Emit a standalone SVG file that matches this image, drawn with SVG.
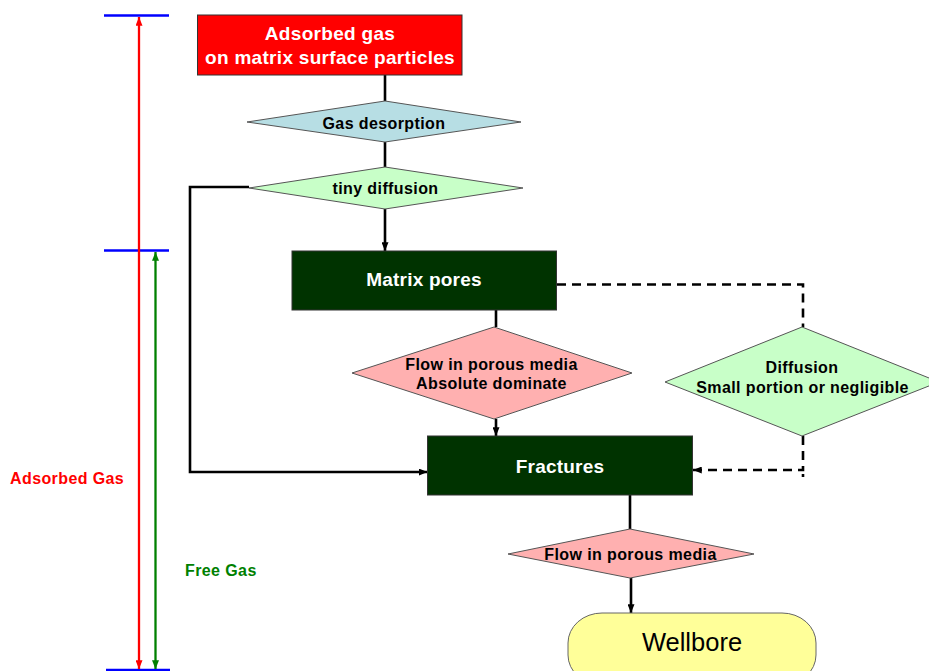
<svg xmlns="http://www.w3.org/2000/svg" width="929" height="671" viewBox="0 0 929 671">
<style>
text{font-family:"Liberation Sans",Arial,sans-serif;}
.big{font-size:19px;font-weight:bold;fill:#fff;text-anchor:middle;letter-spacing:0.3px}
.sm{font-size:16px;font-weight:bold;fill:#000;text-anchor:middle;letter-spacing:0.4px}
.lbl{font-size:16px;font-weight:bold;letter-spacing:0.4px}
.box{stroke:#333;stroke-width:1}
.dia{stroke:#555;stroke-width:1}
.con{fill:none;stroke:#000;stroke-width:2.6}
.dash{fill:none;stroke:#000;stroke-width:2.6;stroke-dasharray:9 6}
</style>
<defs>
<marker id="ab" viewBox="0 0 10 8" refX="10" refY="4" markerWidth="9" markerHeight="7" markerUnits="userSpaceOnUse" orient="auto-start-reverse"><path d="M0,0 L10,4 L0,8 z" fill="#000"/></marker>
<marker id="ar" viewBox="0 0 10 8" refX="10" refY="4" markerWidth="9" markerHeight="7" markerUnits="userSpaceOnUse" orient="auto-start-reverse"><path d="M0,0 L10,4 L0,8 z" fill="#f00"/></marker>
<marker id="ag" viewBox="0 0 10 8" refX="10" refY="4" markerWidth="9" markerHeight="7" markerUnits="userSpaceOnUse" orient="auto-start-reverse"><path d="M0,0 L10,4 L0,8 z" fill="#008000"/></marker>
</defs>
<rect width="929" height="671" fill="#fff"/>

<g id="scale">
<line x1="104" y1="15.5" x2="169" y2="15.5" stroke="#00f" stroke-width="2.5"/>
<line x1="104" y1="250.5" x2="169" y2="250.5" stroke="#00f" stroke-width="2.5"/>
<line x1="106" y1="670" x2="170" y2="670" stroke="#00f" stroke-width="2.5"/>
<line x1="139" y1="17" x2="139" y2="669" stroke="#f00" stroke-width="2.3" marker-start="url(#ar)" marker-end="url(#ar)"/>
<line x1="155.5" y1="252" x2="155.5" y2="669" stroke="#008000" stroke-width="2.3" marker-start="url(#ag)" marker-end="url(#ag)"/>
<text class="lbl" x="10" y="484" fill="#f00">Adsorbed Gas</text>
<text class="lbl" x="185" y="576" fill="#008000">Free Gas</text>
</g>

<g id="connectors">
<line class="con" x1="385" y1="75" x2="385" y2="101"/>
<line class="con" x1="385" y1="142" x2="385" y2="167"/>
<line class="con" x1="385" y1="209" x2="385" y2="251" marker-end="url(#ab)"/>
<line class="con" x1="496" y1="310" x2="496" y2="327"/>
<line class="con" x1="496" y1="419" x2="496" y2="436" marker-end="url(#ab)"/>
<path class="con" d="M249,187 H190 V472 H427.5" marker-end="url(#ab)"/>
<line class="con" x1="630" y1="495" x2="630" y2="529"/>
<line class="con" x1="631" y1="578" x2="631" y2="613" marker-end="url(#ab)"/>
<path class="dash" d="M557,284.5 H803 V327"/>
<path class="dash" d="M803,436 V470 H693" marker-end="url(#ab)"/>
<line x1="803" y1="474" x2="803" y2="477" stroke="#000" stroke-width="2.6"/>
</g>

<g id="adsorbed">
<rect class="box" x="197.5" y="15" width="264.5" height="60" fill="#f00"/>
<text class="big" x="330" y="40">Adsorbed gas</text>
<text class="big" x="330" y="63.5">on matrix surface particles</text>
</g>

<g id="desorption">
<polygon class="dia" points="385,101 521,122 385,142 247,122" fill="#b7dee4"/>
<text class="sm" x="384" y="129">Gas desorption</text>
</g>

<g id="tiny">
<polygon class="dia" points="385,167 523,188 385,209 249,188" fill="#c8ffc8"/>
<text class="sm" x="385.5" y="194">tiny diffusion</text>
</g>

<g id="matrix">
<rect class="box" x="292" y="251" width="264.5" height="59" fill="#003300"/>
<text class="big" x="424" y="286" style="letter-spacing:0.2px">Matrix pores</text>
</g>

<g id="flow1">
<polygon class="dia" points="494,327 632,373 494,419 352,373" fill="#ffb0b0"/>
<text class="sm" x="491.5" y="369.5">Flow in porous media</text>
<text class="sm" x="491.5" y="388.5">Absolute dominate</text>
</g>

<g id="diffusion">
<polygon class="dia" points="802,327 939,382 802,436 665,382" fill="#c8ffc8"/>
<text class="sm" x="802" y="373">Diffusion</text>
<text class="sm" x="802.5" y="393">Small portion or negligible</text>
</g>

<g id="fractures">
<rect class="box" x="427.5" y="436" width="265" height="59" fill="#003300"/>
<text class="big" x="560" y="472.5" style="letter-spacing:0.2px">Fractures</text>
</g>

<g id="flow2">
<polygon class="dia" points="630,529 754,554 630,578 508,554" fill="#ffb0b0"/>
<text class="sm" x="630.5" y="559.5">Flow in porous media</text>
</g>

<g id="wellbore">
<rect x="568" y="613" width="248" height="72" rx="34" ry="30" fill="#ffff99" stroke="#666" stroke-width="1"/>
<text x="692" y="651" font-size="25.5" text-anchor="middle" fill="#000">Wellbore</text>
</g>
</svg>
